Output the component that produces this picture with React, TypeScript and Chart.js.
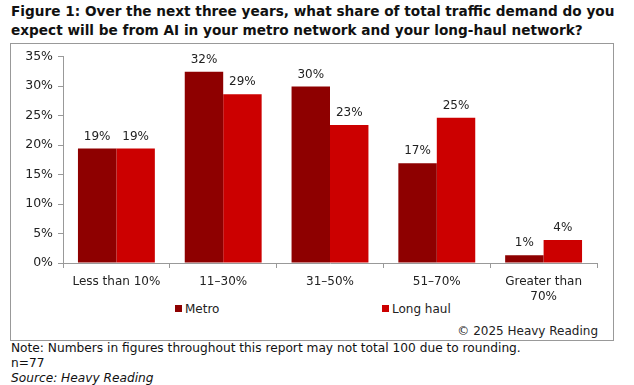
import React, { useEffect, useRef } from "react";
import { Chart, registerables } from "chart.js";

Chart.register(...registerables);

const categories: (string | string[])[] = [
  "Less than 10%",
  "11–30%",
  "31–50%",
  "51–70%",
  ["Greater than", "70%"],
];
const metroValues = [19.4, 32.4, 29.9, 16.9, 1.3];
const longHaulValues = [19.4, 28.6, 23.4, 24.6, 3.9];
const seriesNames = ["Metro", "Long haul"];
const seriesColors = ["#8e0000", "#cc0000"];
const yTicks = [0, 5, 10, 15, 20, 25, 30, 35];

const FONT = "'DejaVu Sans', Verdana, sans-serif";

const valueLabels = {
  id: "valueLabels",
  afterDatasetsDraw(chart: any) {
    const ctx = chart.ctx;
    ctx.save();
    ctx.font = `12px ${FONT}`;
    ctx.fillStyle = "#222";
    ctx.textAlign = "center";
    ctx.textBaseline = "bottom";
    chart.data.datasets.forEach((ds: any, i: number) => {
      const meta = chart.getDatasetMeta(i);
      meta.data.forEach((bar: any, j: number) => {
        ctx.fillText(Math.round(ds.data[j]) + "%", bar.x, bar.y - 6);
      });
    });
    ctx.restore();
  },
};

export default function App() {
  const ref = useRef<HTMLCanvasElement | null>(null);

  useEffect(() => {
    document.body.style.margin = "0";
    const chart = new Chart(ref.current as HTMLCanvasElement, {
      type: "bar",
      data: {
        labels: categories as any,
        datasets: [
          {
            label: seriesNames[0],
            data: metroValues,
            backgroundColor: seriesColors[0],
            barPercentage: 1,
            categoryPercentage: 0.72,
          },
          {
            label: seriesNames[1],
            data: longHaulValues,
            backgroundColor: seriesColors[1],
            barPercentage: 1,
            categoryPercentage: 0.72,
          },
        ],
      },
      options: {
        animation: false,
        responsive: false,
        maintainAspectRatio: false,
        layout: { padding: { top: 10, right: 15, left: 0, bottom: 0 } },
        plugins: {
          legend: { display: false },
          tooltip: { enabled: false },
        },
        scales: {
          x: {
            grid: {
              display: true,
              drawOnChartArea: false,
              drawTicks: true,
              tickLength: 5,
              color: "#999",
              offset: true,
            },
            border: { color: "#999" },
            ticks: {
              color: "#222",
              font: { family: FONT, size: 12, lineHeight: 1.25 },
              padding: 6,
              maxRotation: 0,
              autoSkip: false,
            },
            afterFit: (s: any) => {
              s.height = 37;
            },
          },
          y: {
            min: 0,
            max: 35,
            afterBuildTicks: (s: any) => {
              s.ticks = yTicks.map((v) => ({ value: v }));
            },
            grid: {
              display: true,
              drawOnChartArea: false,
              drawTicks: true,
              tickLength: 5,
              color: "#999",
            },
            border: { color: "#999" },
            ticks: {
              color: "#222",
              font: { family: FONT, size: 12.5 },
              padding: 5,
              callback: (v: any) => v + "%",
            },
            afterFit: (s: any) => {
              s.width = 52;
            },
          },
        },
      },
      plugins: [valueLabels],
    });
    return () => chart.destroy();
  }, []);

  const text: React.CSSProperties = {
    position: "absolute",
    fontFamily: FONT,
    color: "#111",
    whiteSpace: "nowrap",
  };

  return (
    <div style={{ position: "relative", width: 634, height: 385, background: "#fff" }}>
      <div style={{ ...text, left: 11, top: 2, fontSize: 13.65, fontWeight: "bold", lineHeight: "19px" }}>
        Figure 1: Over the next three years, what share of total traffic demand do you
        <br />
        expect will be from AI in your metro network and your long-haul network?
      </div>
      <div
        style={{
          position: "absolute",
          left: 10,
          top: 43,
          width: 602,
          height: 296,
          border: "1px solid #999",
        }}
      />
      <canvas
        ref={ref}
        width={601}
        height={256}
        style={{ position: "absolute", left: 11, top: 44, width: 601, height: 256 }}
      />
      {seriesNames.map((name, i) => (
        <div
          key={name}
          style={{ ...text, left: i === 0 ? 175 : 382, top: 301, fontSize: 12, lineHeight: "16px", color: "#222" }}
        >
          <span
            style={{
              display: "inline-block",
              width: 7,
              height: 7,
              background: seriesColors[i],
              marginRight: 3,
              verticalAlign: "1px",
            }}
          />
          {name}
        </div>
      ))}
      <div style={{ ...text, right: 36, top: 323, fontSize: 12, lineHeight: "16px", color: "#222" }}>
        © 2025 Heavy Reading
      </div>
      <div style={{ ...text, left: 11, top: 341, fontSize: 12.2, lineHeight: "15px" }}>
        Note: Numbers in figures throughout this report may not total 100 due to rounding.
        <br />
        n=77
        <br />
        <i>Source: Heavy Reading</i>
      </div>
    </div>
  );
}
